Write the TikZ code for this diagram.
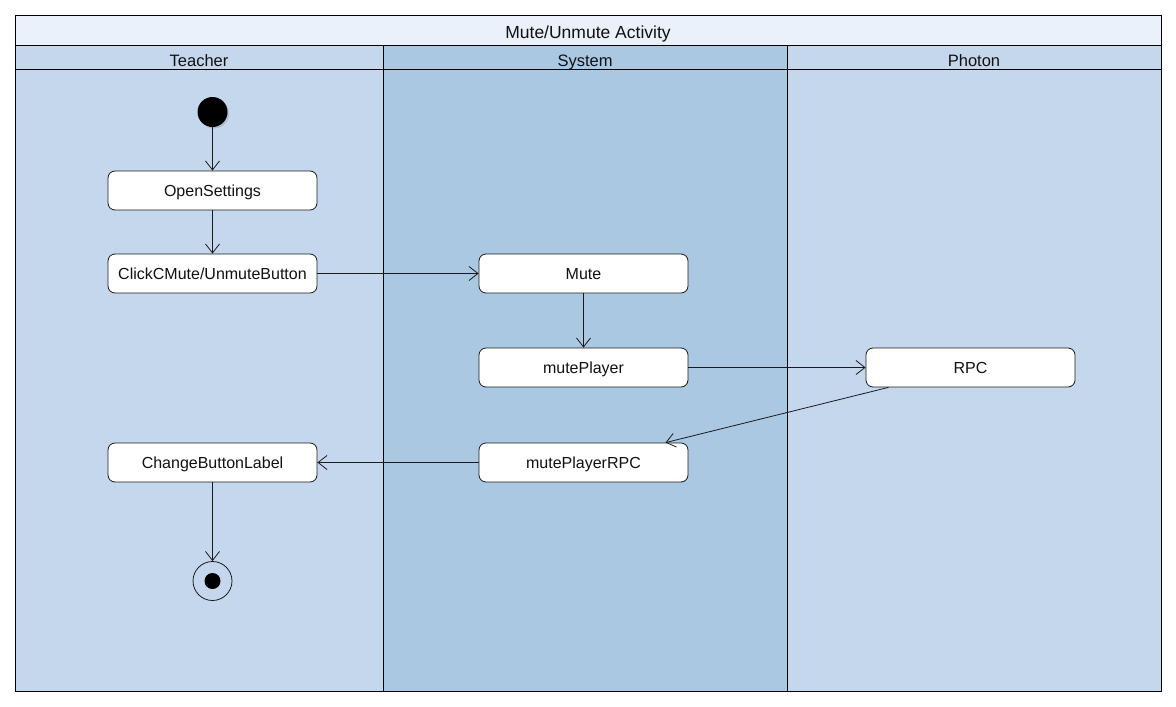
\documentclass[tikz,border=0pt]{standalone}
\usepackage{fontspec}
\setmainfont{Liberation Sans}
\usetikzlibrary{arrows.meta,shadows}
\definecolor{titlebg}{HTML}{EAF1FB}
\definecolor{lanelight}{HTML}{C5D7EC}
\definecolor{lanedark}{HTML}{ABC8E2}
\definecolor{edge}{HTML}{1A1A1A}
\definecolor{txt}{HTML}{111111}
\tikzset{
  act/.style={draw=edge, fill=white, rounded corners=7pt, minimum width=209pt, minimum height=39pt, inner sep=0pt, text=txt, font=\fontsize{16}{18}\selectfont, text height=11.5pt, text depth=0pt, line width=0.8pt},
  flow/.style={draw=edge, line width=0.8pt, -{Straight Barb[length=9pt,width=14pt,line width=0.8pt]}},
  lane/.style={draw=black, line width=1pt},
  hdr/.style={font=\fontsize{16.5}{18}\selectfont, text=txt, text height=11.8pt, text depth=0pt, inner sep=0pt},
}
\begin{document}
\begin{tikzpicture}[x=1pt,y=-1pt]
\useasboundingbox (0,0) rectangle (1176,707);
% lanes
\fill[titlebg] (15,15) rectangle (1161,45);
\fill[lanelight] (15,45) rectangle (383,691);
\fill[lanedark] (383,45) rectangle (787,691);
\fill[lanelight] (787,45) rectangle (1161,691);
\draw[lane] (15,15) rectangle (1161,691);
\draw[lane] (15,45) -- (1161,45);
\draw[lane] (15,69) -- (1161,69);
\draw[lane] (383,45) -- (383,691);
\draw[lane] (787,45) -- (787,691);
\node[hdr, font=\fontsize{17.5}{20}\selectfont, text height=12.5pt] (title) at (588,32.5) {Mute/Unmute Activity};
\node[hdr] (hT) at (199,60.3) {Teacher};
\node[hdr] (hS) at (585,60.3) {System};
\node[hdr] (hP) at (974,60.3) {Photon};
% nodes
\node[circle, fill=black, minimum size=30pt, inner sep=0pt, drop shadow={shadow xshift=1.5pt, shadow yshift=-1.5pt, opacity=0.3}] (start) at (212.5,112) {};
\node[act] (open) at (212.5,190.5) {OpenSettings};
\node[act] (click) at (212.5,273.5) {ClickCMute/UnmuteButton};
\node[act] (mute) at (583.5,273.5) {Mute};
\node[act] (mp) at (583.5,367.5) {mutePlayer};
\node[act] (rpc) at (970.5,367.5) {RPC};
\node[act] (mprpc) at (583.5,462.5) {mutePlayerRPC};
\node[act] (cbl) at (212.5,462.5) {ChangeButtonLabel};
\node[circle, draw=edge, line width=0.8pt, minimum size=39pt, inner sep=0pt] (end) at (212.5,581) {};
\node[circle, fill=black, minimum size=16pt, inner sep=0pt] (endin) at (end.center) {};
% connectors
\draw[flow] (start) -- (open);
\draw[flow] (open) -- (click);
\draw[flow] (click) -- (mute);
\draw[flow] (mute) -- (mp);
\draw[flow] (mp) -- (rpc);
\draw[flow] ([xshift=-82pt]rpc.south) -- ([xshift=82pt]mprpc.north);
\draw[flow] (mprpc) -- (cbl);
\draw[flow] (cbl) -- (end);
\end{tikzpicture}
\end{document}
